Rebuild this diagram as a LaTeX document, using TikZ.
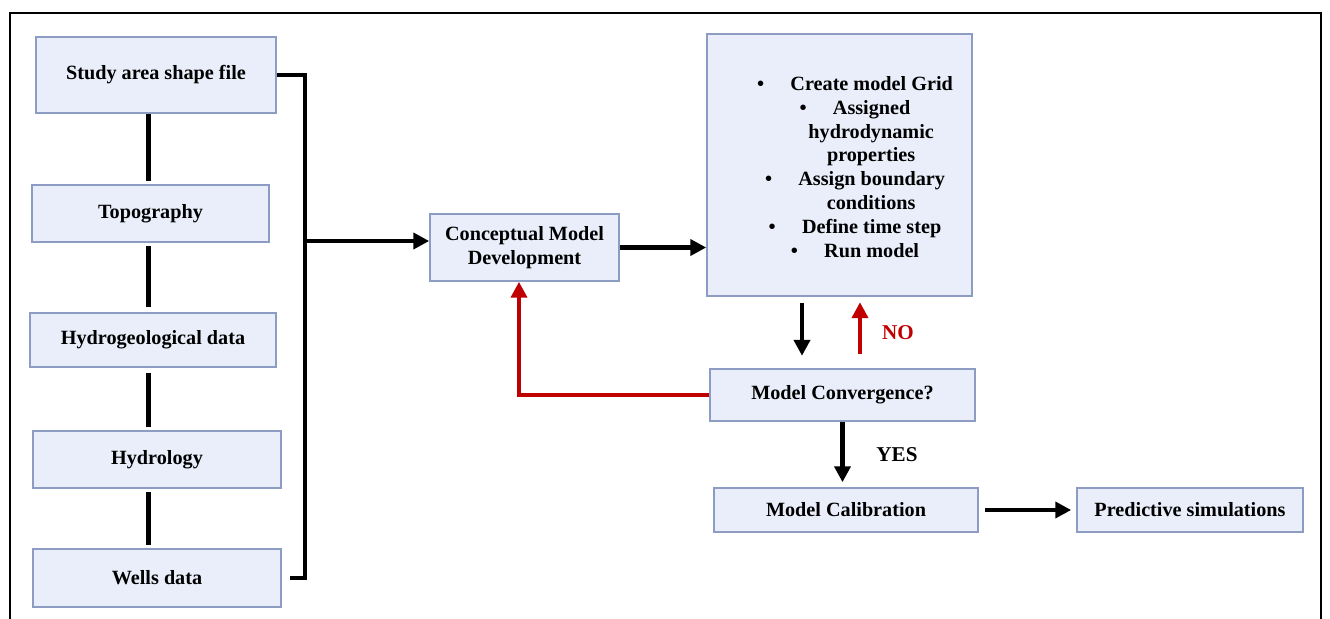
\documentclass[tikz,border=0pt]{standalone}
\usepackage{fontspec}
\setmainfont{Liberation Serif}
\usetikzlibrary{positioning}
\usetikzlibrary{arrows.meta}
\definecolor{boxfill}{RGB}{233,238,250}
\definecolor{boxline}{RGB}{140,156,194}
\definecolor{loopred}{RGB}{192,0,0}
\tikzset{
        boxnode/.style={align=center,inner sep=2pt,font=\fontsize{11.5}{13.6}\selectfont\bfseries},
        % Data and step boxes
        node_box/.style={boxnode, rectangle, draw=boxline, fill=boxfill, line width=0.9pt},
        % Plain text labels
        node_label/.style={boxnode, font=\fontsize{12}{14}\selectfont\bfseries},
        % Connectors
        link/.style={line width=2.5pt, black},
        arr/.style={link, -{Triangle[length=9pt,width=9pt]}},
        arr_red/.style={arr, loopred}
}
\begin{document}
\begin{tikzpicture}
            \useasboundingbox (0,0) rectangle (26.6,-12.38);
            \draw[line width=1.4pt] (0.2,-12.38) -- (0.2,-0.26) -- (26.42,-0.26) -- (26.42,-12.38);

            % Input data
            \node[node_box, minimum width=4.80cm, minimum height=1.52cm] (study) at (3.12,-1.50) {Study area shape file};
            \node[node_box, minimum width=4.74cm, minimum height=1.14cm] (topo) at (3.01,-4.27) {Topography};
            \node[node_box, minimum width=4.92cm, minimum height=1.08cm] (hydrogeo) at (3.06,-6.80) {Hydrogeological data};
            \node[node_box, minimum width=4.96cm, minimum height=1.14cm] (hydro) at (3.14,-9.19) {Hydrology};
            \node[node_box, minimum width=4.96cm, minimum height=1.16cm] (wells) at (3.14,-11.56) {Wells data};

            % Model steps
            \node[node_box, minimum width=3.78cm, minimum height=1.34cm] (concept) at (10.49,-4.95) {Conceptual Model\\Development};
            \node[node_box, minimum width=5.30cm, minimum height=5.24cm] (steps) at (16.79,-3.30) {};
            \node[boxnode] (steps_text) at (17.10,-3.34) {%
                \textbullet\hspace{1.3em}Create model Grid\\
                \textbullet\hspace{1.3em}Assigned\\
                \hspace*{1.6em}hydrodynamic\\
                \hspace*{1.6em}properties\\
                \textbullet\hspace{1.3em}Assign boundary\\
                \hspace*{1.6em}conditions\\
                \textbullet\hspace{1.3em}Define time step\\
                \textbullet\hspace{1.3em}Run model};
            \node[node_box, minimum width=5.30cm, minimum height=1.04cm] (conv) at (16.85,-7.90) {Model Convergence?};
            \node[node_box, minimum width=5.28cm, minimum height=0.88cm] (calib) at (16.92,-10.20) {Model Calibration};
            \node[node_box, minimum width=4.52cm, minimum height=0.88cm] (predict) at (23.80,-10.20) {Predictive simulations};

            % Chain of input boxes
            \coordinate (spine) at (2.97,0);
            \draw[link] (study.south -| spine) -- ([yshift=2pt]topo.north -| spine);
            \draw[link] ([yshift=-2pt]topo.south -| spine) -- ([yshift=3pt]hydrogeo.north -| spine);
            \draw[link] ([yshift=-3pt]hydrogeo.south -| spine) -- ([yshift=2pt]hydro.north -| spine);
            \draw[link] ([yshift=-2pt]hydro.south -| spine) -- ([yshift=2pt]wells.north -| spine);

            % Bracket into the conceptual model
            \coordinate (bus) at (6.10,-4.82);
            \draw[link] (study.east) -| (bus) |- ([xshift=0.16cm]wells.east);
            \draw[arr] (bus) -- (bus -| concept.west);
            \draw[arr] (concept.east) -- (concept.east -| steps.west);

            % Convergence loop
            \draw[arr] ([xshift=-0.75cm,yshift=-0.12cm]steps.south) -- ++(0,-1.06);
            \draw[arr_red] ([xshift=0.35cm,yshift=0.28cm]conv.north) -- ++(0,1.04);
            \node[node_label, loopred] (no) at (17.96,-6.66) {NO};
            \draw[arr_red] (conv.west) -| ([xshift=-0.11cm]concept.south);
            \draw[arr] (conv.south) -- ([yshift=0.1cm]calib.north -| conv.south);
            \node[node_label] (yes) at (17.94,-9.10) {YES};
            \draw[arr] ([xshift=0.12cm]calib.east) -- ([xshift=-0.1cm]predict.west);
\end{tikzpicture}
\end{document}
